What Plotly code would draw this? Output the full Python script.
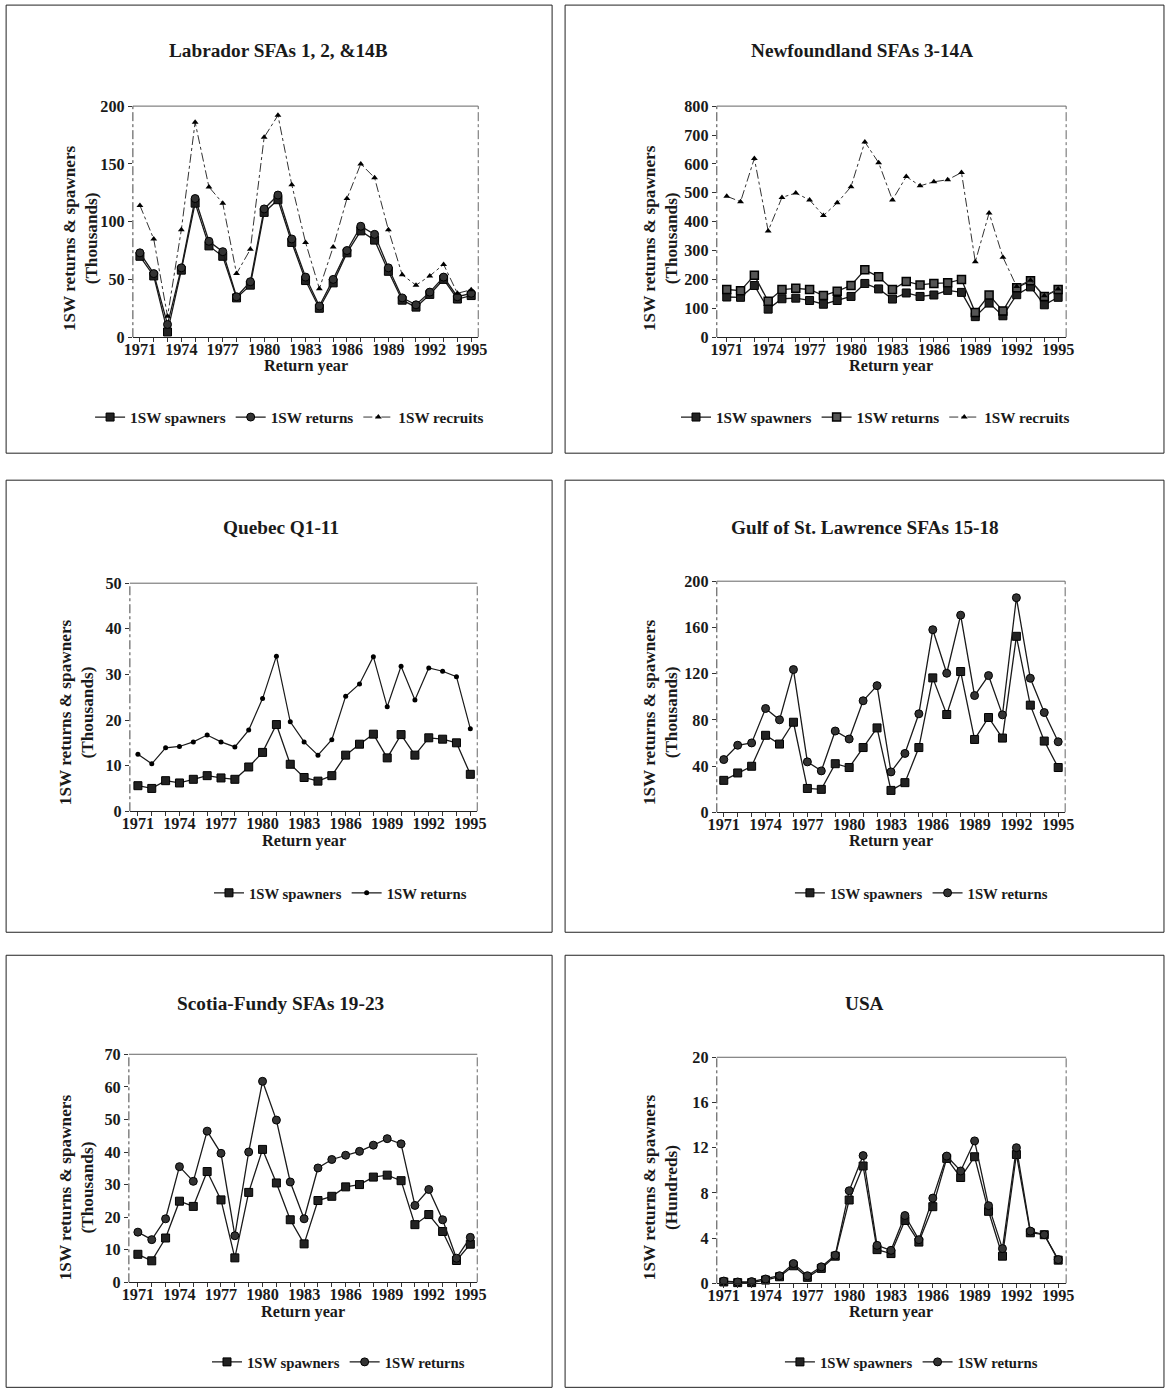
import plotly.graph_objects as go

# Observed page photograph: body margin 8px and a ~0.987 overall scale.
SX, SY = 0.9865, 0.987
OFF = 8
W, H = 1175, 1402

years = list(range(1971, 1996))
x_tick_labels = [str(y) if (y - 1971) % 3 == 0 else "" for y in years]

lab_spawners = [70, 53, 4.5, 58, 116, 79, 70, 34, 45, 108, 119, 82, 49, 25, 47, 73, 92, 84, 57, 32, 26, 37, 50, 33, 36]
lab_returns = [73, 55, 11, 60, 120, 83, 74, 35, 48, 111, 123, 85, 52, 27, 50, 75, 96, 89, 60, 34, 28, 39, 52, 35, 38]
lab_recruits = [114, 85, 18, 93, 186, 130, 116, 55, 76, 173, 192, 132, 82, 42, 78, 120, 150, 138, 93, 54, 45, 53, 63, 38, 41]

nfl_spawners = [139, 138, 179, 97, 133, 135, 127, 114, 127, 141, 186, 167, 132, 153, 141, 146, 162, 155, 71, 118, 74, 147, 174, 112, 138]
nfl_returns = [165, 161, 214, 124, 165, 169, 165, 144, 159, 179, 233, 209, 165, 193, 181, 186, 188, 200, 85, 146, 91, 171, 195, 141, 165]
nfl_recruits = [488, 469, 619, 368, 484, 499, 475, 421, 465, 521, 676, 604, 475, 556, 524, 538, 545, 570, 261, 430, 277, 175, 197, 143, 167]

que_spawners = [5.6, 5.0, 6.7, 6.2, 7.0, 7.8, 7.3, 7.0, 9.7, 12.9, 19.0, 10.3, 7.4, 6.6, 7.8, 12.3, 14.7, 16.9, 11.7, 16.8, 12.3, 16.1, 15.8, 15.0, 8.1]
que_returns = [12.5, 10.4, 13.9, 14.2, 15.2, 16.7, 15.2, 14.1, 17.8, 24.7, 34.0, 19.6, 15.2, 12.3, 15.7, 25.2, 27.9, 33.9, 22.9, 31.8, 24.4, 31.4, 30.7, 29.5, 18.1]

gulf_spawners = [27.6, 34, 39.8, 66.6, 59, 77.9, 20.6, 19.8, 42, 38.7, 56, 73, 18.9, 25.6, 56, 116.3, 84.6, 121.8, 63, 82, 64.2, 152.3, 92.7, 61.6, 38.7]
gulf_returns = [45.6, 58, 60, 89.8, 80, 123.5, 43.6, 35.8, 70.3, 63.4, 96.5, 109.6, 34.9, 50.9, 85.2, 158, 120.3, 170.6, 101, 118.3, 84.3, 185.7, 116, 86.3, 61]

sf_spawners = [8.6, 6.6, 13.6, 24.9, 23.3, 34, 25.3, 7.5, 27.6, 40.8, 30.5, 19.2, 11.8, 25.1, 26.4, 29.3, 30, 32.3, 32.9, 31.2, 17.7, 20.8, 15.6, 6.7, 11.7]
sf_returns = [15.4, 13.1, 19.5, 35.5, 31, 46.4, 39.6, 14.3, 40, 61.7, 49.8, 30.8, 19.5, 35.1, 37.7, 39, 40.2, 42.1, 44.1, 42.5, 23.6, 28.5, 19.2, 7.4, 13.8]

usa_spawners = [0.12, 0.06, 0.06, 0.29, 0.58, 1.55, 0.53, 1.32, 2.4, 7.37, 10.38, 2.98, 2.63, 5.56, 3.65, 6.78, 11.05, 9.36, 11.2, 6.37, 2.4, 11.4, 4.47, 4.3, 2.05]
usa_returns = [0.2, 0.12, 0.15, 0.38, 0.67, 1.75, 0.67, 1.46, 2.49, 8.19, 11.3, 3.36, 2.92, 6.0, 3.86, 7.54, 11.26, 9.94, 12.6, 6.87, 3.07, 12.0, 4.62, 4.3, 2.1]

titles = ["Labrador SFAs 1, 2, &14B", "Newfoundland SFAs 3-14A", "Quebec Q1-11",
          "Gulf of St. Lawrence SFAs 15-18", "Scotia-Fundy SFAs 19-23", "USA"]
units = ["(Thousands)", "(Thousands)", "(Thousands)", "(Thousands)", "(Thousands)", "(Hundreds)"]
y_max = [200, 800, 50, 200, 70, 20]
y_step = [50, 100, 10, 40, 10, 4]

FONT = "Liberation Serif"
INK = "#1a1a1a"
K = 1 / SX  # font compensation

panels = [
    dict(l=132, r=478, t=106, b=337, xr=[1970.49, 1995.51], box=[5, 552, 5, 453], tx=278, ty=50,
         yt_x=79, yt_y=238, ry=366, lx=289, ly=417, lf=15),
    dict(l=717, r=1067, t=106, b=337, xr=[1970.28, 1995.58], box=[565, 1165, 5, 453], tx=862, ty=50,
         yt_x=660, yt_y=238, ry=366, lx=876, ly=417, lf=15),
    dict(l=129, r=477, t=583, b=811, xr=[1970.42, 1995.50], box=[5, 552, 480, 932], tx=280, ty=527,
         yt_x=75, yt_y=712, ry=841, lx=340, ly=893, lf=14.5),
    dict(l=717, r=1066, t=581, b=812, xr=[1970.5, 1995.5], box=[565, 1165, 480, 932], tx=865, ty=527,
         yt_x=660, yt_y=712, ry=841, lx=922, ly=893, lf=14.5),
    dict(l=128, r=477, t=1054, b=1282, xr=[1970.35, 1995.5], box=[5, 552, 955, 1387], tx=280, ty=1003,
         yt_x=75, yt_y=1187, ry=1312, lx=338, ly=1362, lf=14.5),
    dict(l=717, r=1067, t=1057, b=1283, xr=[1970.5, 1995.57], box=[565, 1165, 955, 1387], tx=865, ty=1003,
         yt_x=660, yt_y=1187, ry=1312, lx=912, ly=1362, lf=14.5),
]

def px(x):
    return (x / SX - OFF) / W

def py(y):
    return 1 - (y / SY - OFF) / H

series = [
    [("1SW spawners", lab_spawners, "square"), ("1SW returns", lab_returns, "circle"), ("1SW recruits", lab_recruits, "tri")],
    [("1SW spawners", nfl_spawners, "square"), ("1SW returns", nfl_returns, "square2"), ("1SW recruits", nfl_recruits, "tri")],
    [("1SW spawners", que_spawners, "square"), ("1SW returns", que_returns, "dot")],
    [("1SW spawners", gulf_spawners, "square"), ("1SW returns", gulf_returns, "circle")],
    [("1SW spawners", sf_spawners, "square"), ("1SW returns", sf_returns, "circle")],
    [("1SW spawners", usa_spawners, "square"), ("1SW returns", usa_returns, "circle")],
]

fig = go.Figure()
layout = dict(width=W, height=H, margin=dict(l=0, r=0, t=0, b=0), autosize=False,
              paper_bgcolor="white", plot_bgcolor="white",
              font=dict(family=FONT, color=INK, size=15, weight="bold"))
shapes = []
annotations = []

for i, p in enumerate(panels):
    n = i + 1
    xa = "x" if n == 1 else f"x{n}"
    ya = "y" if n == 1 else f"y{n}"
    leg = "legend" if n == 1 else f"legend{n}"
    for name, vals, kind in series[i]:
        if kind == "square":
            marker = dict(symbol="square", size=8, color="#222", line=dict(color="#000", width=1))
            line = dict(color=INK, width=1.3)
        elif kind == "square2":
            marker = dict(symbol="square", size=8, color="#555", line=dict(color="#000", width=1.5))
            line = dict(color=INK, width=1.3)
        elif kind == "circle":
            marker = dict(symbol="circle", size=8, color="#333", line=dict(color="#000", width=1))
            line = dict(color=INK, width=1.3)
        elif kind == "dot":
            marker = dict(symbol="circle", size=5, color="#000")
            line = dict(color=INK, width=1.2)
        else:
            marker = dict(symbol="triangle-up", size=6, color="#000")
            line = dict(color="#333", width=1, dash="dashdot")
        fig.add_trace(go.Scatter(x=years, y=vals, name=name, mode="lines+markers",
                                 marker=marker, line=line, xaxis=xa, yaxis=ya,
                                 legend=leg, cliponaxis=False))
    xkey = "xaxis" if n == 1 else f"xaxis{n}"
    ykey = "yaxis" if n == 1 else f"yaxis{n}"
    layout[xkey] = dict(domain=[px(p["l"]), px(p["r"])], range=p["xr"], anchor=ya,
                        tickmode="array", tickvals=years, ticktext=x_tick_labels,
                        ticks="outside", ticklen=4, tickcolor="#333", tickwidth=1,
                        ticklabelstandoff=-7,
                        showline=True, linecolor="#222", linewidth=1.2, showgrid=False,
                        zeroline=False, tickfont=dict(size=16 * K, family=FONT, weight="bold", color=INK))
    layout[ykey] = dict(domain=[py(p["b"]), py(p["t"])], range=[0, y_max[i]], anchor=xa,
                        tickmode="linear", tick0=0, dtick=y_step[i],
                        ticks="outside", ticklen=4, tickcolor="#333", tickwidth=1,
                        showline=False, showgrid=False, zeroline=False,
                        tickfont=dict(size=16 * K, family=FONT, weight="bold", color=INK))
    shapes.append(dict(type="line", xref="paper", yref="paper", x0=px(p["l"]), x1=px(p["l"]),
                       y0=py(p["b"]), y1=py(p["t"]), line=dict(color="#444", width=1, dash="dashdot")))
    shapes.append(dict(type="line", xref="paper", yref="paper", x0=px(p["r"]), x1=px(p["r"]),
                       y0=py(p["b"]), y1=py(p["t"]), line=dict(color="#666", width=1, dash="dashdot")))
    shapes.append(dict(type="line", xref="paper", yref="paper", x0=px(p["l"]), x1=px(p["r"]),
                       y0=py(p["t"]), y1=py(p["t"]), line=dict(color="#666", width=1)))
    bx = p["box"]
    shapes.append(dict(type="rect", xref="paper", yref="paper", x0=px(bx[0]), x1=px(bx[1]),
                       y0=py(bx[3]), y1=py(bx[2]), line=dict(color="#222", width=1)))
    annotations.append(dict(text=titles[i], x=px(p["tx"]), y=py(p["ty"]), xref="paper", yref="paper",
                            showarrow=False, xanchor="center", yanchor="middle",
                            font=dict(size=19 * K, family=FONT, weight="bold", color=INK)))
    annotations.append(dict(text="1SW returns & spawners<br>" + units[i], x=px(p["yt_x"]), y=py(p["yt_y"]),
                            xref="paper", yref="paper", showarrow=False, textangle=-90,
                            xanchor="center", yanchor="middle",
                            font=dict(size=17 * K, family=FONT, weight="bold", color=INK)))
    annotations.append(dict(text="Return year", x=px((p["l"] + p["r"]) / 2), y=py(p["ry"]),
                            xref="paper", yref="paper", showarrow=False, xanchor="center", yanchor="middle",
                            font=dict(size=16 * K, family=FONT, weight="bold", color=INK)))
    layout[leg] = dict(orientation="h", x=px(p["lx"]), y=py(p["ly"]), xanchor="center", yanchor="middle",
                       bgcolor="rgba(0,0,0,0)", itemwidth=30,
                       font=dict(size=p["lf"] * K, family=FONT, weight="bold", color=INK))

layout["shapes"] = shapes
layout["annotations"] = annotations
layout["showlegend"] = True
fig.update_layout(**layout)
fig.write_html("out.html")
